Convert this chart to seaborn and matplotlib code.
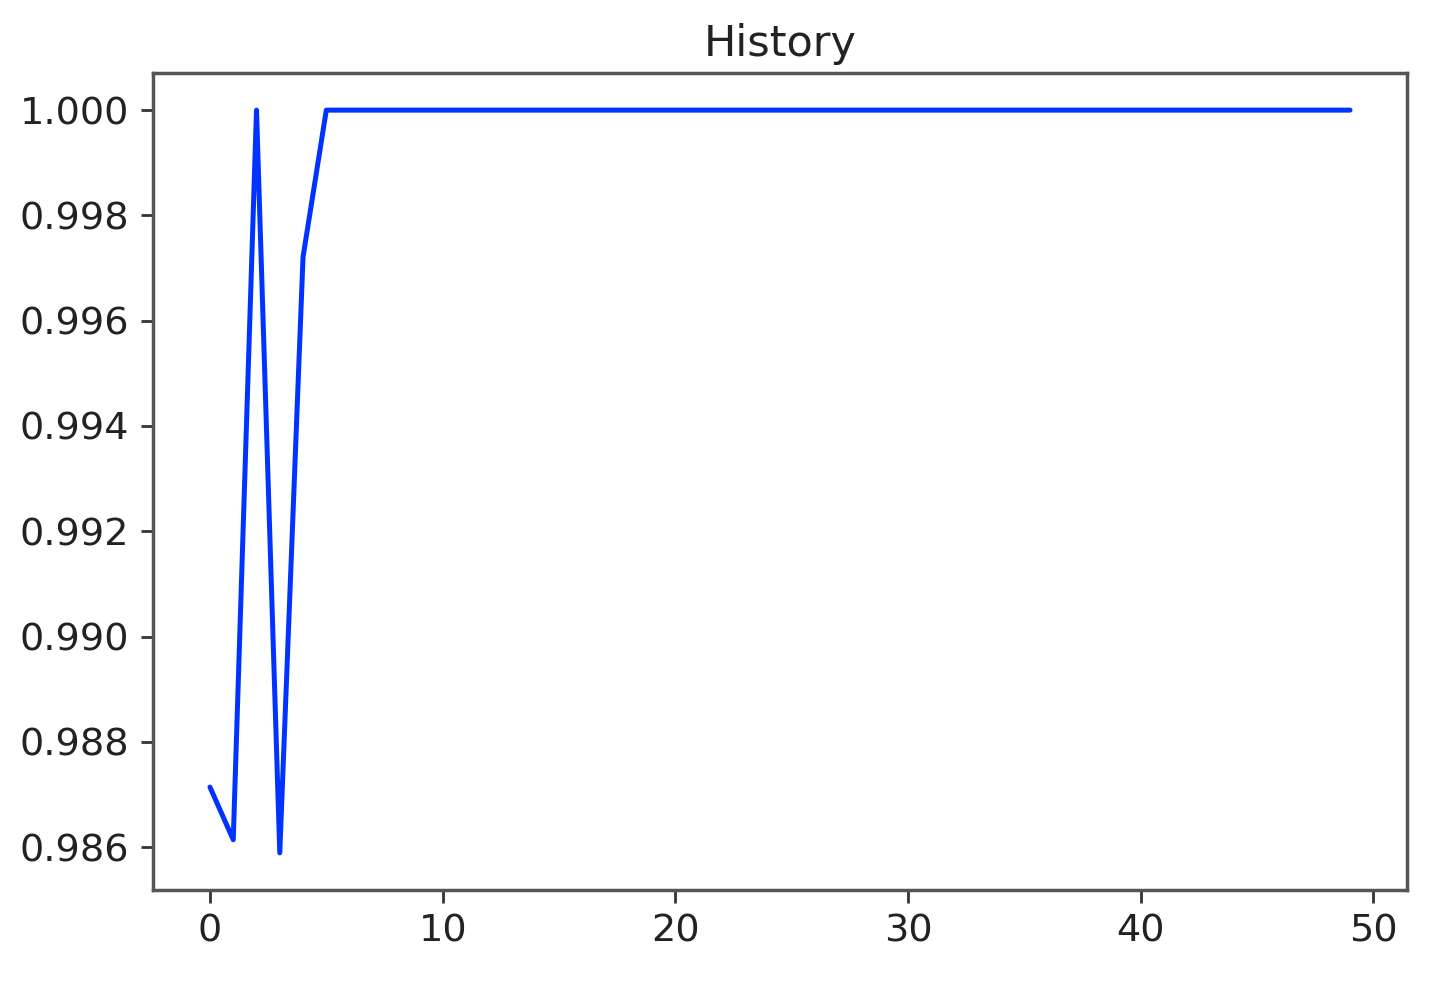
import pandas as pd
import matplotlib
matplotlib.use('Agg')
import matplotlib.pyplot as plt
import seaborn as sns

# Valores del historial
first_epochs = [0.98714, 0.98614, 1.0, 0.98589, 0.99721]
n_epochs = 50
history = first_epochs + [1.0] * (n_epochs - len(first_epochs))
epochs = list(range(n_epochs))

df = pd.DataFrame({'epoch': epochs, 'value': history})

sns.set_style('white')
plt.rcParams['font.family'] = ['DejaVu Sans']

fig = plt.figure(figsize=(14.35, 9.85), dpi=100)
ax = fig.add_axes([0.1066, 0.0964, 0.8739, 0.8295])

sns.lineplot(data=df, x='epoch', y='value', color='#0033ff', linewidth=3.6, ax=ax)

ax.set_title('History', fontsize=31, color='#222222', pad=12)
ax.set_xlabel('')
ax.set_ylabel('')
ax.set_xticks([0, 10, 20, 30, 40, 50])
ax.set_yticks([0.986, 0.988, 0.990, 0.992, 0.994, 0.996, 0.998, 1.000])
ax.yaxis.set_major_formatter(matplotlib.ticker.FormatStrFormatter('%.3f'))
ax.tick_params(axis='both', labelsize=27.5, length=9, width=2, color='#333333',
               labelcolor='#222222', direction='out', bottom=True, left=True, pad=8)
ax.margins(x=0.05, y=0.05)
for s in ax.spines.values():
    s.set_color('#555555')
    s.set_linewidth(2.5)

fig.savefig('out.png', dpi=100)
